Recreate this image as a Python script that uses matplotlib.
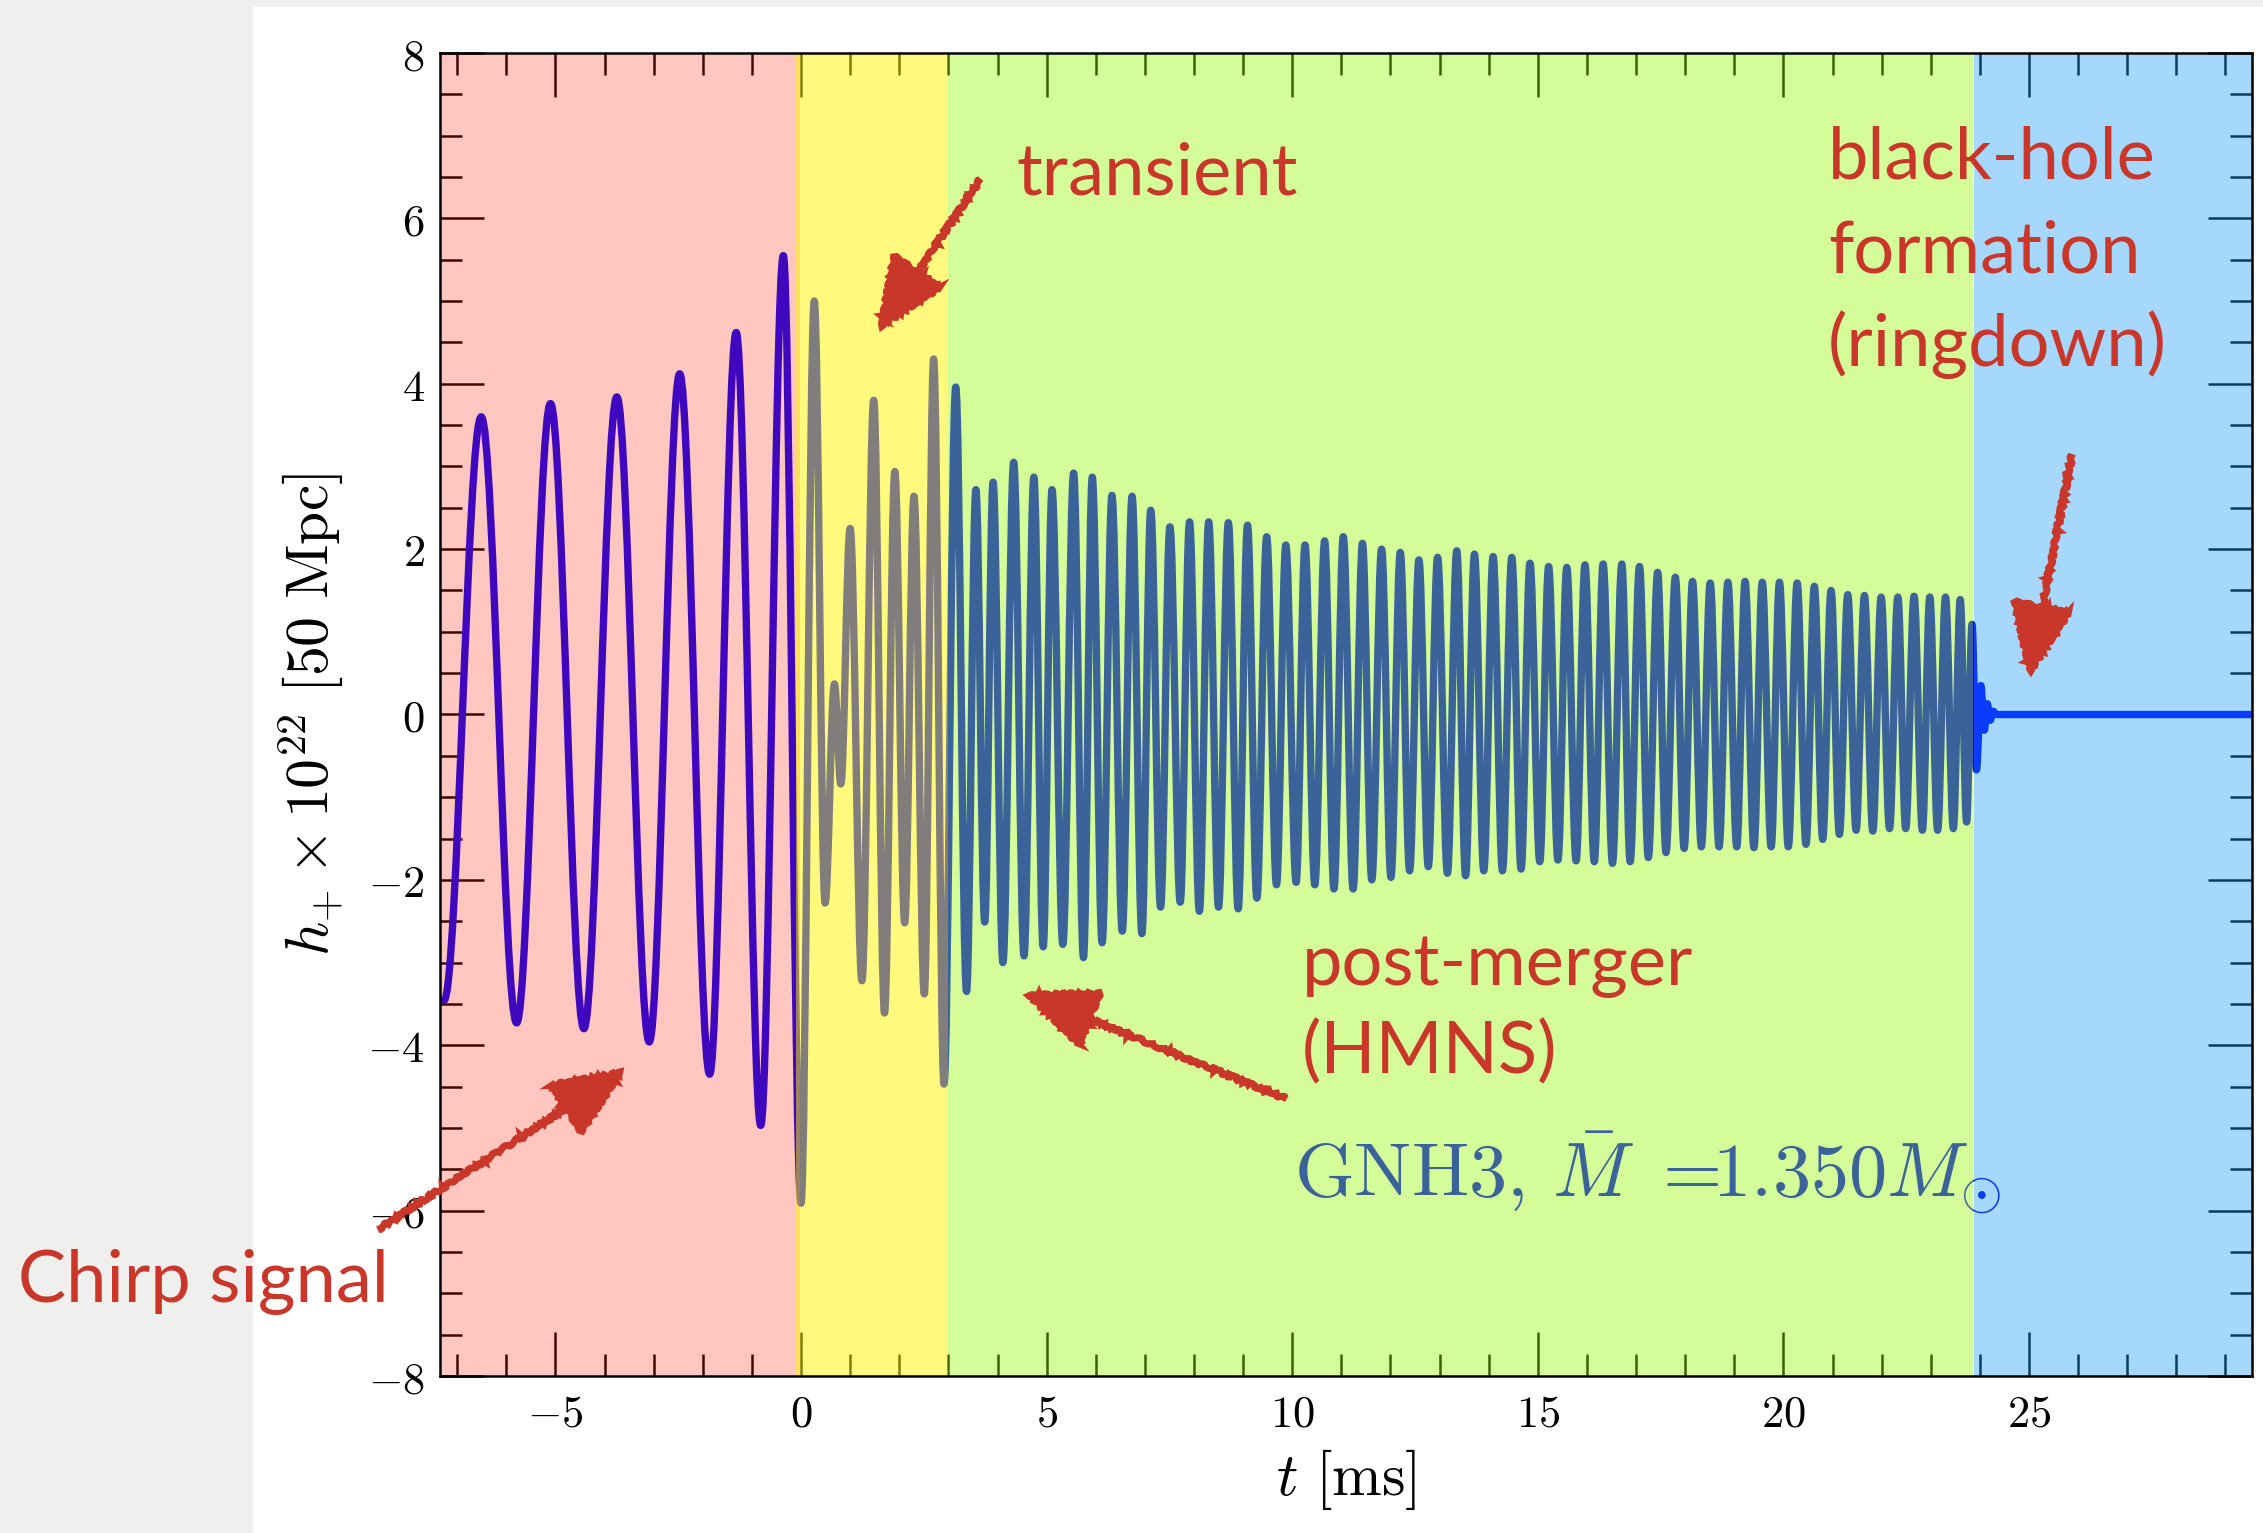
import matplotlib
matplotlib.use('Agg')
import matplotlib.pyplot as plt
from matplotlib.path import Path
from matplotlib.patches import PathPatch, Rectangle, FancyArrowPatch, ArrowStyle
from matplotlib.ticker import MultipleLocator, FuncFormatter

plt.rcParams['mathtext.fontset'] = 'cm'
plt.rcParams['font.family'] = ['DejaVu Serif']

# successive extrema of h_+ x 1e22 (t in ms)
chirp_t = [-7.27, -6.51, -5.79, -5.10, -4.42, -3.75, -3.09, -2.47, -1.86, -1.32, -0.82, -0.36, 0.00]
chirp_h = [-3.46, 3.60, -3.73, 3.76, -3.80, 3.84, -3.96, 4.12, -4.35, 4.62, -4.97, 5.55, -5.91]

transient_t = [0.27, 0.49, 0.68, 0.81, 1.00, 1.24, 1.48, 1.70, 1.91, 2.11, 2.30, 2.51, 2.70, 2.91]
transient_h = [5.00, -2.28, 0.37, -0.84, 2.25, -3.22, 3.80, -3.61, 2.94, -2.52, 2.64, -3.38, 4.30, -4.47]

hmns_t = [3.15, 3.37, 3.56, 3.74, 3.91, 4.11, 4.33, 4.54, 4.74, 4.93,
          5.11, 5.33, 5.55, 5.75, 5.93, 6.13, 6.33, 6.54, 6.74, 6.94,
          7.12, 7.32, 7.51, 7.72, 7.91, 8.11, 8.30, 8.50, 8.70, 8.90,
          9.09, 9.28, 9.48, 9.68, 9.87, 10.08, 10.26, 10.46, 10.66, 10.85,
          11.04, 11.24, 11.43, 11.62, 11.82, 12.01, 12.20, 12.39, 12.58, 12.77,
          12.96, 13.16, 13.35, 13.53, 13.71, 13.90, 14.09, 14.28, 14.47, 14.66,
          14.84, 15.04, 15.22, 15.41, 15.59, 15.78, 15.96, 16.15, 16.33, 16.52,
          16.71, 16.88, 17.07, 17.25, 17.44, 17.61, 17.80, 17.98, 18.15, 18.33,
          18.51, 18.69, 18.87, 19.05, 19.22, 19.40, 19.57, 19.75, 19.92, 20.10,
          20.28, 20.46, 20.63, 20.80, 20.97, 21.14, 21.31, 21.48, 21.65, 21.82,
          21.99, 22.16, 22.33, 22.49, 22.66, 22.83, 22.98, 23.14, 23.30, 23.46,
          23.60, 23.73, 23.84]
hmns_h = [3.96, -3.35, 2.72, -2.51, 2.81, -3.00, 3.05, -2.92, 2.87, -2.81,
          2.72, -2.78, 2.92, -2.94, 2.87, -2.76, 2.65, -2.62, 2.64, -2.65,
          2.47, -2.33, 2.27, -2.27, 2.33, -2.38, 2.33, -2.33, 2.32, -2.35,
          2.29, -2.22, 2.15, -2.06, 2.05, -2.03, 2.05, -2.06, 2.10, -2.11,
          2.15, -2.11, 2.07, -2.00, 2.00, -1.97, 1.96, -1.89, 1.87, -1.84,
          1.90, -1.92, 1.98, -1.95, 1.94, -1.89, 1.91, -1.89, 1.90, -1.87,
          1.83, -1.78, 1.79, -1.76, 1.78, -1.77, 1.81, -1.78, 1.82, -1.80,
          1.82, -1.78, 1.79, -1.73, 1.72, -1.67, 1.66, -1.62, 1.61, -1.60,
          1.59, -1.60, 1.60, -1.60, 1.61, -1.61, 1.60, -1.60, 1.60, -1.60,
          1.59, -1.57, 1.55, -1.51, 1.50, -1.45, 1.45, -1.40, 1.44, -1.41,
          1.42, -1.38, 1.42, -1.38, 1.43, -1.40, 1.42, -1.40, 1.42, -1.38,
          1.39, -1.30, 1.09]

ringdown_t = [23.93, 24.02, 24.09, 24.15, 24.21, 24.27, 24.33, 29.6]
ringdown_h = [-0.67, 0.35, -0.19, 0.13, -0.07, 0.04, 0.0, 0.0]

# phase bands: (start, end, tint rgb, alpha)
band_edges = [(-7.4, -0.02), (-0.10, 3.0), (3.0, 23.86), (23.89, 29.6)]
band_rgb = [(1.0, 0.125, 0.0), (1.0, 0.97, 0.0), (0.58, 0.98, 0.0), (0.10, 0.61, 0.98)]
band_alpha = [0.25, 0.51, 0.40, 0.39]

red = '#c8372a'


def extrema_path(t, h, k=0.363):
    # cubic segments with flat tangents at every extremum
    verts = [(t[0], h[0])]
    codes = [Path.MOVETO]
    for i in range(1, len(t)):
        dt = t[i] - t[i - 1]
        verts += [(t[i - 1] + k * dt, h[i - 1]), (t[i] - k * dt, h[i]), (t[i], h[i])]
        codes += [Path.CURVE4] * 3
    return Path(verts, codes)


fig = plt.figure(figsize=(22.63, 15.33), dpi=100, facecolor='#efefed')
fig.add_artist(Rectangle((253 / 2263, 0), 1, 1 - 7 / 1533, transform=fig.transFigure,
                         facecolor='white', edgecolor='none', zorder=-10))
ax = fig.add_axes([440 / 2263, 1 - 1376 / 1533, 1812 / 2263, 1323 / 1533])

all_t = chirp_t + transient_t + hmns_t + ringdown_t
all_h = chirp_h + transient_h + hmns_h + ringdown_h
ax.add_patch(PathPatch(extrema_path(all_t, all_h), fill=False, edgecolor=(0, 0, 1),
                       lw=5.3, capstyle='round', joinstyle='round', zorder=2))

for (x0, x1), c, a in zip(band_edges, band_rgb, band_alpha):
    ax.axvspan(x0, x1, facecolor=c, alpha=a, lw=0, zorder=3)

ax.set_xlim(-7.35, 29.54)
ax.set_ylim(-8, 8)
ax.set_axisbelow(True)
for sp in ax.spines.values():
    sp.set_linewidth(1.8)
    sp.set_zorder(5)

ax.xaxis.set_major_locator(MultipleLocator(5))
ax.xaxis.set_minor_locator(MultipleLocator(1))
ax.yaxis.set_major_locator(MultipleLocator(2))
ax.yaxis.set_minor_locator(MultipleLocator(0.5))
fmt = FuncFormatter(lambda v, p: r'$%g$' % v)
ax.xaxis.set_major_formatter(fmt)
ax.yaxis.set_major_formatter(fmt)
ax.tick_params(which='both', direction='in', top=True, right=True, width=1.8, labelsize=32)
ax.tick_params(which='major', length=32)
ax.tick_params(which='minor', length=16)
ax.tick_params(axis='x', pad=12)
ax.tick_params(axis='y', pad=11)

ax.set_xlabel(r'$t\ [\mathrm{ms}]$', fontsize=43)
ax.xaxis.set_label_coords(0.5, -0.054)
ax.set_ylabel(r'$h_{+}\times 10^{22}\ [50\ \mathrm{Mpc}]$', fontsize=43)
ax.yaxis.set_label_coords(-0.052, 0.5)

ax.text(10.04, -5.83, r'$\mathrm{GNH3,}\,\bar{M}\ =\!\!1.350M_{\odot}$', fontsize=55,
        color=(0, 0, 1), ha='left', va='baseline', zorder=2)

tfont = dict(family='Lato', fontsize=52, color=red, ha='left', va='baseline', zorder=10,
             clip_on=False)
ax.text(4.38, 6.29, 'transient', **tfont)
ax.text(20.91, 6.48, 'black-hole', **tfont)
ax.text(20.91, 5.35, 'formation', **tfont)
ax.text(20.91, 4.21, '(ringdown)', **tfont)
ax.text(10.20, -3.27, 'post-merger', **tfont)
ax.text(10.20, -4.34, '(HMNS)', **tfont)
ax.text(-15.94, -7.10, 'Chirp signal', **tfont)

arrows = [((3.66, 6.48), (1.53, 4.62)),
          ((-8.62, -6.23), (-3.53, -4.28)),
          ((9.89, -4.65), (4.49, -3.35)),
          ((25.88, 3.15), (24.98, 0.43))]
for tail, tip in arrows:
    arr = FancyArrowPatch(tail, tip, arrowstyle=ArrowStyle('-|>', head_length=1.0, head_width=0.42),
                          mutation_scale=46, color=red, lw=5, shrinkA=0, shrinkB=0,
                          joinstyle='miter', capstyle='butt', zorder=10, clip_on=False)
    arr.set_sketch_params(scale=1.5, length=12, randomness=6)
    ax.add_patch(arr)

fig.savefig('out.png', dpi=100, facecolor=fig.get_facecolor())
